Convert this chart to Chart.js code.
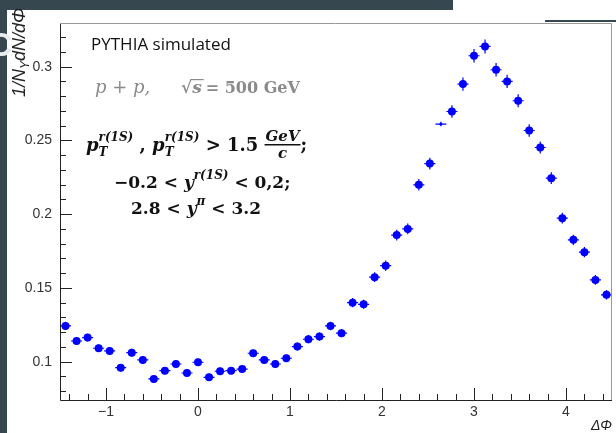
<!DOCTYPE html>
<html>
<head>
<meta charset="utf-8">
<script src="https://cdn.jsdelivr.net/npm/chart.js@4.4.0/dist/chart.umd.min.js"></script>
<style>
  html, body { margin: 0; padding: 0; background: #fff; overflow: hidden; }
  canvas { display: block; }
</style>
</head>
<body>
<canvas id="chart" width="616" height="433"></canvas>
<script>
// ===== DATA =====
const dPhi = [-1.44, -1.32, -1.2, -1.08, -0.96, -0.84, -0.72, -0.6, -0.48, -0.36,
  -0.24, -0.12, 0, 0.12, 0.24, 0.36, 0.48, 0.6, 0.72, 0.84,
  0.96, 1.08, 1.2, 1.32, 1.44, 1.56, 1.68, 1.8, 1.92, 2.04,
  2.16, 2.28, 2.4, 2.52, 2.64, 2.76, 2.88, 3, 3.12, 3.24,
  3.36, 3.48, 3.6, 3.72, 3.84, 3.96, 4.08, 4.2, 4.32, 4.44];
const yieldVals = [0.1242, 0.1140, 0.1163, 0.1091, 0.1073, 0.0959, 0.1061, 0.1012, 0.0883, 0.0939,
  0.0984, 0.0923, 0.0996, 0.0894, 0.0935, 0.0939, 0.0950, 0.1057, 0.1012, 0.0984,
  0.1023, 0.1102, 0.1152, 0.1170, 0.1242, 0.1193, 0.1400, 0.1389, 0.1573, 0.1651,
  0.1858, 0.1900, 0.2199, 0.2343, 0.2611, 0.2696, 0.2882, 0.3074, 0.3137, 0.2979,
  0.2900, 0.2769, 0.2567, 0.2452, 0.2244, 0.1973, 0.1826, 0.1742, 0.1554, 0.1453];
const yieldErr = [0.0028, 0.0027, 0.0027, 0.0026, 0.0026, 0.0025, 0.0026, 0.0026, 0.0024, 0.0025,
  0.0025, 0.0025, 0.0026, 0.0024, 0.0025, 0.0025, 0.0025, 0.0026, 0.0026, 0.0025,
  0.0026, 0.0027, 0.0028, 0.0028, 0.0029, 0.0028, 0.0031, 0.0031, 0.0033, 0.0034,
  0.0036, 0.0037, 0.0039, 0.0040, 0.0015, 0.0043, 0.0045, 0.0046, 0.0047, 0.0046,
  0.0045, 0.0044, 0.0042, 0.0041, 0.0040, 0.0037, 0.0035, 0.0035, 0.0033, 0.0032];
const binHalfWidth = 0.06;

const xTickVals = [-1, 0, 1, 2, 3, 4];
const xTickLabels = ['\u22121', '0', '1', '2', '3', '4'];
const xMinorVals = [-1.4, -1.2, -0.8, -0.6, -0.4, -0.2, 0.2, 0.4, 0.6, 0.8, 1.2, 1.4, 1.6, 1.8,
  2.2, 2.4, 2.6, 2.8, 3.2, 3.4, 3.6, 3.8, 4.2, 4.4];
const yTickVals = [0.1, 0.15, 0.2, 0.25, 0.3];
const yTickLabels = ['0.1', '0.15', '0.2', '0.25', '0.3'];
const yMinorVals = [0.08, 0.09, 0.11, 0.12, 0.13, 0.14, 0.16, 0.17, 0.18, 0.19,
  0.21, 0.22, 0.23, 0.24, 0.26, 0.27, 0.28, 0.29, 0.31, 0.32];

// ===== STYLE =====
const BLUE = '#0000ff';
const SLATE = '#37474f';
const AXIS_FONT = '"Liberation Sans", Arial, sans-serif';
const SERIF = '"DejaVu Serif", "Liberation Serif", serif';

// draws a run of text pieces; supports stacked sup/sub and a small fraction
function drawRun(ctx, x, y, parts) {
  ctx.textAlign = 'left';
  ctx.textBaseline = 'alphabetic';
  for (const p of parts) {
    ctx.font = p.f;
    if (p.sup != null) {
      const w = Math.max(ctx.measureText(p.sup).width, ctx.measureText(p.sub).width);
      ctx.fillText(p.sup, x, y - 10);
      ctx.fillText(p.sub, x, y + 5);
      x += w;
    } else if (p.num != null) {
      const w = Math.max(ctx.measureText(p.num).width, ctx.measureText(p.den).width) + 2;
      ctx.textAlign = 'center';
      ctx.fillText(p.num, x + w / 2, y - 10);
      ctx.fillText(p.den, x + w / 2, y + 7);
      ctx.textAlign = 'left';
      ctx.fillRect(x, y - 7, w, 1.5);
      x += w;
    } else {
      ctx.fillText(p.t, x, y + (p.dy || 0));
      x += ctx.measureText(p.t).width;
    }
  }
  return x;
}

const rootStyle = {
  id: 'rootStyle',
  beforeDraw(chart) {
    const { ctx } = chart;
    ctx.save();
    ctx.fillStyle = '#fff';
    ctx.fillRect(0, 0, chart.width, chart.height);
    // slide background peeking in at the edges
    ctx.fillStyle = SLATE;
    ctx.fillRect(0, 0, 453, 10);
    ctx.fillRect(0, 0, 7, chart.height);
    ctx.fillRect(545, 20, 71, 2);
    ctx.font = 'bold 34px "Liberation Sans", Arial, sans-serif';
    ctx.fillStyle = '#e8ecee';
    ctx.textBaseline = 'alphabetic';
    ctx.fillText('C', -12, 56);
    ctx.restore();
  },
  beforeDatasetsDraw(chart) {
    const { ctx, scales: { x, y } } = chart;
    ctx.save();
    ctx.strokeStyle = BLUE;
    ctx.lineWidth = 1.2;
    ctx.beginPath();
    dPhi.forEach((v, i) => {
      const px = x.getPixelForValue(v);
      const py = y.getPixelForValue(yieldVals[i]);
      ctx.moveTo(x.getPixelForValue(v - binHalfWidth), py);
      ctx.lineTo(x.getPixelForValue(v + binHalfWidth), py);
      ctx.moveTo(px, y.getPixelForValue(yieldVals[i] - yieldErr[i]));
      ctx.lineTo(px, y.getPixelForValue(yieldVals[i] + yieldErr[i]));
    });
    ctx.stroke();
    ctx.restore();
  },
  afterDraw(chart) {
    const { ctx, chartArea: a, scales: { x, y } } = chart;
    ctx.save();
    // frame
    ctx.strokeStyle = '#222';
    ctx.lineWidth = 1;
    ctx.beginPath();
    ctx.moveTo(a.left + 0.5, a.top);
    ctx.lineTo(a.left + 0.5, a.bottom + 0.5);
    ctx.lineTo(a.right, a.bottom + 0.5);
    ctx.stroke();
    ctx.strokeStyle = '#999';
    ctx.beginPath();
    ctx.moveTo(a.left, a.top + 0.5);
    ctx.lineTo(a.right - 0.5, a.top + 0.5);
    ctx.lineTo(a.right - 0.5, a.bottom);
    ctx.stroke();

    // ROOT-style ticks drawn inside the frame
    ctx.strokeStyle = '#222';
    ctx.beginPath();
    xTickVals.concat(xMinorVals).forEach((v, i) => {
      const px = Math.round(x.getPixelForValue(v)) + 0.5;
      const len = i < xTickVals.length ? 12 : 6;
      ctx.moveTo(px, a.bottom);
      ctx.lineTo(px, a.bottom - len);
    });
    yTickVals.concat(yMinorVals).forEach((v, i) => {
      const py = Math.round(y.getPixelForValue(v)) + 0.5;
      const len = i < yTickVals.length ? 12 : 6;
      ctx.moveTo(a.left, py);
      ctx.lineTo(a.left + len, py);
    });
    ctx.stroke();

    // axis titles
    ctx.fillStyle = '#222';
    ctx.font = 'italic 14px ' + AXIS_FONT;
    ctx.textAlign = 'right';
    ctx.textBaseline = 'alphabetic';
    ctx.fillText('\u0394\u03A6', 612, 430);

    ctx.save();
    ctx.translate(25, 8);
    ctx.rotate(-Math.PI / 2);
    const tParts = [
      { t: '1/N', f: 'italic 18px ' + AXIS_FONT },
      { t: '\u03A5', f: 'italic 12px ' + AXIS_FONT, dy: 4 },
      { t: 'dN/d\u03A6', f: 'italic 18px ' + AXIS_FONT },
    ];
    let tw = 0;
    tParts.forEach(p => { ctx.font = p.f; tw += ctx.measureText(p.t).width; });
    drawRun(ctx, -tw, 0, tParts);
    ctx.restore();

    // annotations
    ctx.fillStyle = '#111';
    ctx.font = '17px "Open Sans", ' + AXIS_FONT;
    ctx.textAlign = 'left';
    ctx.fillText('PYTHIA simulated', 91, 50);

    ctx.fillStyle = '#8a8a8a';
    drawRun(ctx, 95, 93, [{ t: 'p + p,', f: 'italic 18px ' + SERIF }]);
    const sx = 181;
    ctx.font = 'bold 17px ' + SERIF;
    ctx.fillText('\u221A', sx, 93);
    const sw = ctx.measureText('\u221A').width;
    ctx.font = 'bold italic 17px ' + SERIF;
    ctx.fillText('s', sx + sw, 93);
    ctx.fillRect(sx + sw - 1, 79, ctx.measureText('s').width + 3, 1.2);
    ctx.font = 'bold 16px ' + SERIF;
    ctx.fillText(' = 500 GeV', sx + sw + 8, 93);

    ctx.fillStyle = '#111';
    const BI = 'bold italic 18px ' + SERIF;
    const B = 'bold 18px ' + SERIF;
    const SM = 'bold italic 12px ' + SERIF;
    drawRun(ctx, 86, 151, [
      { t: 'p', f: BI },
      { sup: 'r(1S)', sub: 'T', f: SM },
      { t: ' , ', f: B },
      { t: 'p', f: BI },
      { sup: 'r(1S)', sub: 'T', f: SM },
      { t: ' > 1.5 ', f: B },
      { num: 'GeV', den: 'c', f: 'bold italic 15px ' + SERIF },
      { t: ';', f: B },
    ]);
    const BI2 = 'bold italic 17px ' + SERIF;
    const B2 = 'bold 17px ' + SERIF;
    drawRun(ctx, 114, 188, [
      { t: '\u22120.2 < ', f: B2 },
      { t: 'y', f: BI2 },
      { t: 'r(1S)', f: SM, dy: -9 },
      { t: ' < 0,2;', f: B2 },
    ]);
    drawRun(ctx, 131, 214, [
      { t: '2.8 < ', f: B2 },
      { t: 'y', f: BI2 },
      { t: '\u03C0', f: SM, dy: -9 },
      { t: ' < 3.2', f: B2 },
    ]);
    ctx.restore();
  },
};

new Chart(document.getElementById('chart'), {
  type: 'scatter',
  data: {
    datasets: [{
      data: dPhi.map((v, i) => ({ x: v, y: yieldVals[i] })),
      backgroundColor: BLUE,
      borderWidth: 0,
      pointRadius: (c) => (c.dataIndex === 34 ? 1.5 : 4),
    }],
  },
  options: {
    responsive: false,
    animation: false,
    layout: { padding: { top: 23, right: 1, left: 0, bottom: 0 } },
    plugins: { legend: { display: false }, tooltip: { enabled: false } },
    scales: {
      x: {
        type: 'linear',
        min: -1.5,
        max: 4.5,
        grid: { display: false, drawTicks: false },
        border: { display: false },
        afterBuildTicks: (s) => { s.ticks = xTickVals.map(v => ({ value: v })); },
        afterFit: (s) => { s.height = 33; },
        ticks: {
          padding: 4,
          color: '#333',
          font: { family: AXIS_FONT, size: 14 },
          maxRotation: 0,
          callback: (v) => xTickLabels[xTickVals.indexOf(v)],
        },
      },
      y: {
        type: 'linear',
        min: 0.074,
        max: 0.3296,
        grid: { display: false, drawTicks: false },
        border: { display: false },
        afterBuildTicks: (s) => { s.ticks = yTickVals.map(v => ({ value: v })); },
        afterFit: (s) => { s.width = 60; },
        ticks: {
          padding: 8,
          color: '#333',
          font: { family: AXIS_FONT, size: 14 },
          callback: (v) => yTickLabels[yTickVals.indexOf(v)],
        },
      },
    },
  },
  plugins: [rootStyle],
});
</script>
</body>
</html>
